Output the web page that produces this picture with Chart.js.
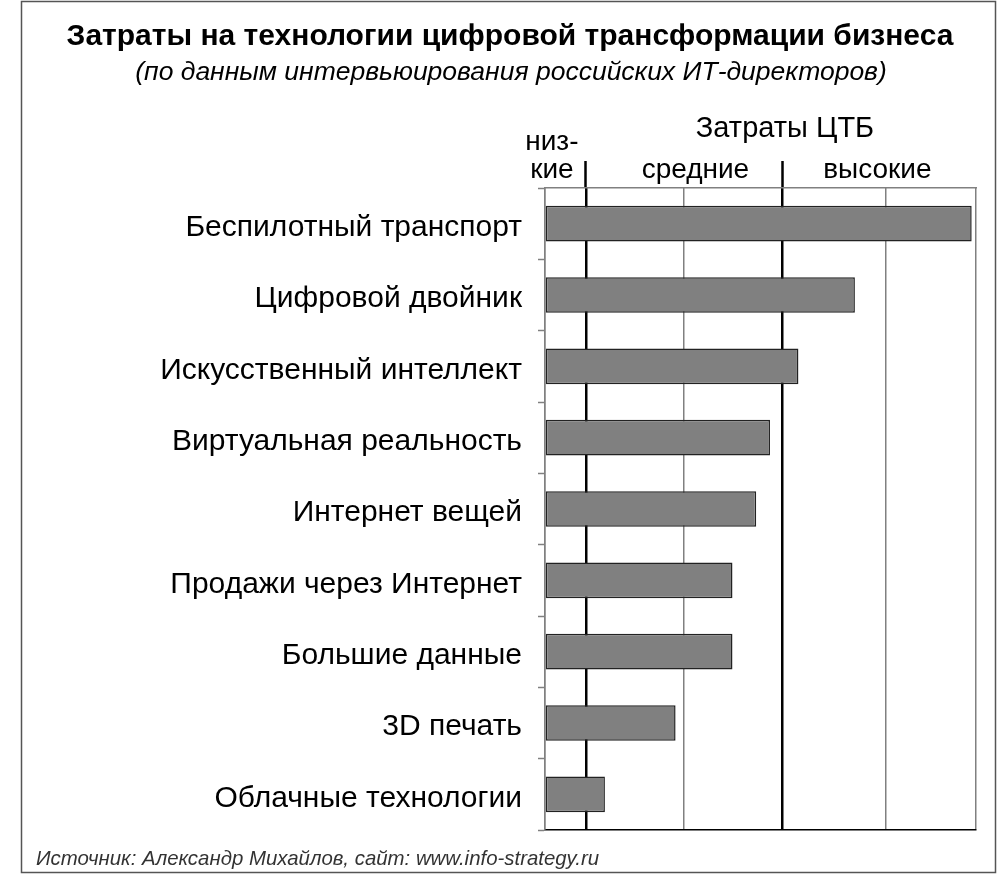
<!DOCTYPE html>
<html>
<head>
<meta charset="utf-8">
<script src="https://cdn.jsdelivr.net/npm/chart.js@4/dist/chart.umd.min.js"></script>
<style>
    html, body { margin: 0; padding: 0; background: #fff; }
    #wrap { width: 1002px; height: 880px; }
</style>
</head>
<body>
<div id="wrap"><canvas id="costChart" width="1002" height="880"></canvas></div>
<script>
// Технологии ЦТБ и затраты (условная шкала 0..10)
const technologies = [
    'Беспилотный транспорт',
    'Цифровой двойник',
    'Искусственный интеллект',
    'Виртуальная реальность',
    'Интернет вещей',
    'Продажи через Интернет',
    'Большие данные',
    '3D печать',
    'Облачные технологии'
];
const costs = [9.9, 7.19, 5.88, 5.22, 4.9, 4.35, 4.35, 3.03, 1.39];

// линии сетки по шкале затрат
const gridLevels = [0, 0.95, 3.22, 5.5, 7.91, 10];
const bandBorders = [0.95, 5.5];   // границы низкие / средние / высокие
const bandLabels = [['низ-', 'кие'], 'средние', 'высокие'];
const bandCenters = [0.16, 3.49, 7.71];

const FONT = 'Liberation Sans, Arial, sans-serif';
const GRAY = '#808080';

const isBorder = v => bandBorders.includes(v);

const decorPlugin = {
    id: 'decor',
    afterDraw(chart) {
        const ctx = chart.ctx;
        ctx.save();
        // рамка
        ctx.strokeStyle = '#555';
        ctx.lineWidth = 1.5;
        ctx.strokeRect(21.5, 1.5, 974, 871);
        // заголовок
        ctx.fillStyle = '#000';
        ctx.textAlign = 'center';
        ctx.textBaseline = 'alphabetic';
        ctx.font = 'bold 30px ' + FONT;
        ctx.fillText('Затраты на технологии цифровой трансформации бизнеса', 510, 45);
        ctx.font = 'italic 26.5px ' + FONT;
        ctx.fillText('(по данным интервьюирования российских ИТ-директоров)', 511, 80);
        ctx.font = '29px ' + FONT;
        ctx.fillText('Затраты ЦТБ', 785, 137);
        // источник
        ctx.textAlign = 'left';
        ctx.fillStyle = '#333';
        ctx.font = 'italic 20.4px ' + FONT;
        ctx.fillText('Источник: Александр Михайлов, сайт: www.info-strategy.ru', 36, 865);
        ctx.restore();
    }
};

new Chart(document.getElementById('costChart'), {
    type: 'bar',
    data: {
        labels: technologies,
        datasets: [{
            data: costs,
            backgroundColor: '#808080',
            borderColor: '#222',
            borderWidth: 1.5,
            borderSkipped: false,
            barPercentage: 0.5,
            categoryPercentage: 1
        }]
    },
    options: {
        indexAxis: 'y',
        responsive: false,
        animation: false,
        layout: {
            autoPadding: false,
            padding: { left: 0, right: 26, top: 128, bottom: 50 }
        },
        plugins: {
            legend: { display: false },
            tooltip: { enabled: false }
        },
        scales: {
            x: {
                position: 'bottom',
                min: 0,
                max: 10,
                afterBuildTicks: s => { s.ticks = gridLevels.map(v => ({ value: v })); },
                afterFit: s => { s.height = 0; },
                ticks: { display: false },
                grid: {
                    drawTicks: false,
                    color: c => isBorder(c.tick.value) ? '#000' : GRAY,
                    lineWidth: c => isBorder(c.tick.value) ? 2.5 : 1.5
                },
                border: { color: '#000', width: 1.5 }
            },
            xBand: {
                axis: 'x',
                position: 'top',
                min: 0,
                max: 10,
                afterBuildTicks: s => {
                    s.ticks = gridLevels.concat(bandCenters).map(v => ({ value: v }));
                },
                afterFit: s => { s.height = 60; },
                ticks: {
                    autoSkip: false,
                    maxRotation: 0,
                    padding: -23,
                    color: '#000',
                    font: { family: FONT, size: 28, lineHeight: 1 },
                    callback: v => {
                        const i = bandCenters.indexOf(v);
                        return i >= 0 ? bandLabels[i] : '';
                    }
                },
                grid: {
                    drawOnChartArea: false,
                    tickLength: 27,
                    tickColor: c => isBorder(c.tick.value) ? '#000' : 'rgba(0,0,0,0)',
                    tickWidth: 2.5
                },
                border: { color: GRAY, width: 1.5 }
            },
            y: {
                afterFit: s => { s.width = 545; },
                ticks: {
                    padding: 16,
                    labelOffset: 4,
                    color: '#000',
                    font: { family: FONT, size: 30 }
                },
                grid: {
                    drawOnChartArea: false,
                    tickLength: 7,
                    tickColor: GRAY,
                    tickWidth: 1.5
                },
                border: { color: GRAY, width: 1.5 }
            }
        }
    },
    plugins: [decorPlugin]
});
</script>
</body>
</html>
